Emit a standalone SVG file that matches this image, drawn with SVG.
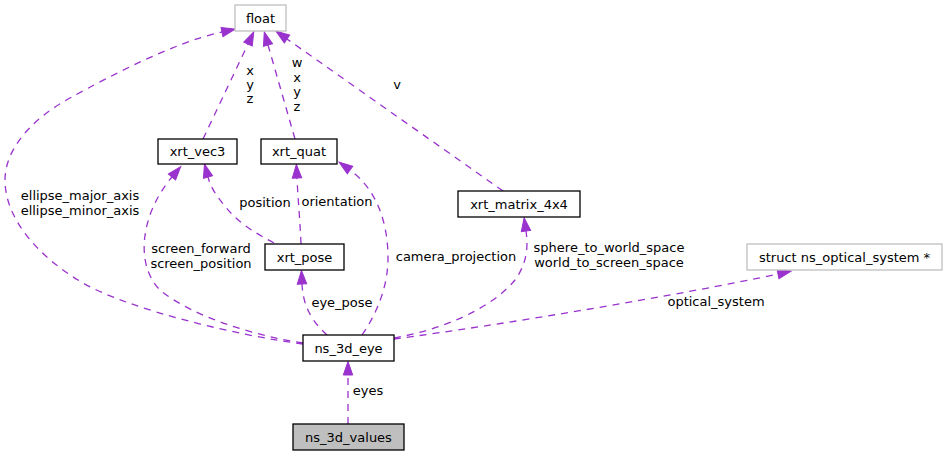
<svg xmlns="http://www.w3.org/2000/svg" width="947" height="456" viewBox="0 0 947 456">
<style>
  text { font-family: "DejaVu Sans", "Liberation Sans", sans-serif; font-size: 13px; fill: #000; }
  .c { text-anchor: middle; }
  .box { fill: #fff; stroke: #000; stroke-width: 1.3; }
  .ext { fill: #fff; stroke: #bfbfbf; stroke-width: 1.3; }
  .cur { fill: #bfbfbf; stroke: #000; stroke-width: 1.3; }
  .e { fill: none; stroke: #9a32cd; stroke-width: 1.3; stroke-dasharray: 7,6; marker-end: url(#ah); }
</style>
<defs>
  <marker id="ah" markerUnits="userSpaceOnUse" markerWidth="16" markerHeight="12" refX="0" refY="5" orient="auto" viewBox="0 0 16 12" overflow="visible">
    <path d="M0,0.3 L13.5,5 L0,9.7 Z" fill="#9a32cd" stroke="#9a32cd" stroke-width="1"/>
  </marker>
</defs>

<g id="edges">
  <path class="e" d="M348,424 L348,375"/>
  <path class="e" d="M327,335 C316,325 303,310 302,284"/>
  <path class="e" d="M362,335 C378,312 388,285 388,258 C388,220 375,188 350,170"/>
  <path class="e" d="M394,338 C440,330 490,310 515,280 C528,262 528,245 526,231"/>
  <path class="e" d="M394,339 C500,325 680,295 778,274"/>
  <path class="e" d="M274,243 C255,233 237,222 224,205 C216,195 211,188 208,177"/>
  <path class="e" d="M301,244 C300,220 298,200 297,178"/>
  <path class="e" d="M303,343 C250,335 190,315 160,290 C135,265 140,215 172,177"/>
  <path class="e" d="M303,344 C240,336 130,310 83,283 C40,258 5,220 5,180 C5,150 30,120 70,98 C110,76 175,42 222,32"/>
  <path class="e" d="M203,139 L248,44"/>
  <path class="e" d="M295,139 L268,45"/>
  <path class="e" d="M503,191 L287,39"/>
</g>

<g id="edge-labels">
  <text x="368" y="395" class="c">eyes</text>
  <text x="342" y="307" class="c">eye_pose</text>
  <text x="456" y="261" class="c">camera_projection</text>
  <text x="609" y="252" class="c">sphere_to_world_space</text>
  <text x="609" y="267" class="c">world_to_screen_space</text>
  <text x="716" y="306" class="c">optical_system</text>
  <text x="265" y="207" class="c">position</text>
  <text x="337" y="206" class="c">orientation</text>
  <text x="201" y="253" class="c">screen_forward</text>
  <text x="201" y="268" class="c">screen_position</text>
  <text x="80" y="200" class="c">ellipse_major_axis</text>
  <text x="80" y="215" class="c">ellipse_minor_axis</text>
  <text x="250" y="75" class="c">x</text>
  <text x="250" y="89" class="c">y</text>
  <text x="250" y="103" class="c">z</text>
  <text x="297" y="67" class="c">w</text>
  <text x="297" y="81.5" class="c">x</text>
  <text x="297" y="96" class="c">y</text>
  <text x="297" y="110.5" class="c">z</text>
  <text x="397" y="89" class="c">v</text>
</g>

<g id="node-float">
  <rect class="ext" x="235" y="5" width="51" height="26"/>
  <text x="260.5" y="22.5" class="c">float</text>
</g>
<g id="node-xrt_vec3">
  <rect class="box" x="158" y="139" width="79" height="25"/>
  <text x="197.5" y="156" class="c">xrt_vec3</text>
</g>
<g id="node-xrt_quat">
  <rect class="box" x="261" y="139" width="76" height="25"/>
  <text x="299" y="156" class="c">xrt_quat</text>
</g>
<g id="node-xrt_matrix_4x4">
  <rect class="box" x="458" y="191" width="122" height="26"/>
  <text x="519" y="208.5" class="c">xrt_matrix_4x4</text>
</g>
<g id="node-ns_optical_system">
  <rect class="ext" x="747" y="244" width="195" height="26"/>
  <text x="844.5" y="261.5" class="c">struct ns_optical_system *</text>
</g>
<g id="node-xrt_pose">
  <rect class="box" x="265" y="244" width="79" height="26"/>
  <text x="304.5" y="261.5" class="c">xrt_pose</text>
</g>
<g id="node-ns_3d_eye">
  <rect class="box" x="303" y="335" width="91" height="26"/>
  <text x="348.5" y="352.5" class="c">ns_3d_eye</text>
</g>
<g id="node-ns_3d_values">
  <rect class="cur" x="293" y="424" width="111" height="26"/>
  <text x="348.5" y="441.5" class="c">ns_3d_values</text>
</g>
</svg>
